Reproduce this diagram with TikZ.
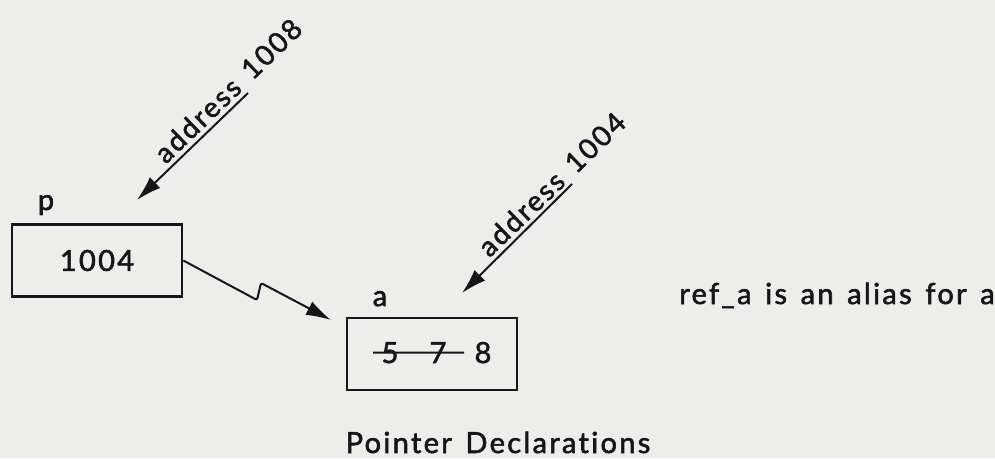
\documentclass[tikz,border=0pt]{standalone}
\usepackage{fontspec}
\setmainfont{Lato}[LetterSpace=8, WordSpace=1.4, FakeBold=2, Ligatures=NoCommon]
\usetikzlibrary{arrows.meta,calc}
\definecolor{paper}{RGB}{237,237,235}
\definecolor{ink}{RGB}{22,22,22}

\begin{document}
\begin{tikzpicture}[x=1pt,y=-1pt,
  membox/.style={draw=ink, line width=2.6pt, minimum width=170pt,
                 minimum height=72pt, inner sep=0pt,
                 font=\fontsize{29}{34}\selectfont, text=ink},
  txt/.style={font=\fontsize{29}{34}\selectfont, text=ink, inner sep=0pt},
  addr/.style={font=\fontsize{28}{33}\selectfont, text=ink, inner sep=5pt,
               anchor=south west, rotate=44},
  ptr/.style={draw=ink, line width=2pt, -{Latex[length=25pt,width=15pt]}},
  strike/.style={draw=ink, line width=2pt}]

  % page
  \fill[paper] (0,0) rectangle (995,458);
  \useasboundingbox (0,0) rectangle (995,458);

  % memory cells
  \node[membox] (p) at (97,260.5) {1004};
  \node[membox] (a) at (432,354) {};

  % variable names
  \node[txt, anchor=base] (plbl) at (46,210) {p};
  \node[txt, anchor=base] (albl) at (380,306) {a};

  % contents of a: old values struck out
  \node[txt, anchor=base] (d5) at (390,363) {5};
  \node[txt, anchor=base] (d7) at (438,363) {7};
  \node[txt, anchor=base] (d8) at (483,363) {8};
  \draw[strike] ([xshift=-17pt]d5.center) -- ([xshift=26pt]d7.center);

  % addresses of the two variables
  \coordinate (s1) at (248,93);
  \coordinate (t1) at (137,200);
  \draw[ptr] (s1) -- (t1);
  \path (t1) -- (s1) node[addr, pos=0.26] (addrp) {address 1008};

  \coordinate (s2) at (572,184);
  \coordinate (t2) at (462,293);
  \draw[ptr] (s2) -- (t2);
  \path (t2) -- (s2) node[addr, pos=0.25] (addra) {address 1004};

  % p points to a
  \coordinate (zt) at (331,320);
  \draw[ptr, rounded corners=2pt] (p.east) -- (257,300) -- (261,283) -- (zt);

  % notes
  \node[txt, anchor=base] (alias) at (837,304) {ref\_a is an alias for a};
  \node[txt, anchor=base] (title) at (498,453) {Pointer Declarations};
\end{tikzpicture}
\end{document}
